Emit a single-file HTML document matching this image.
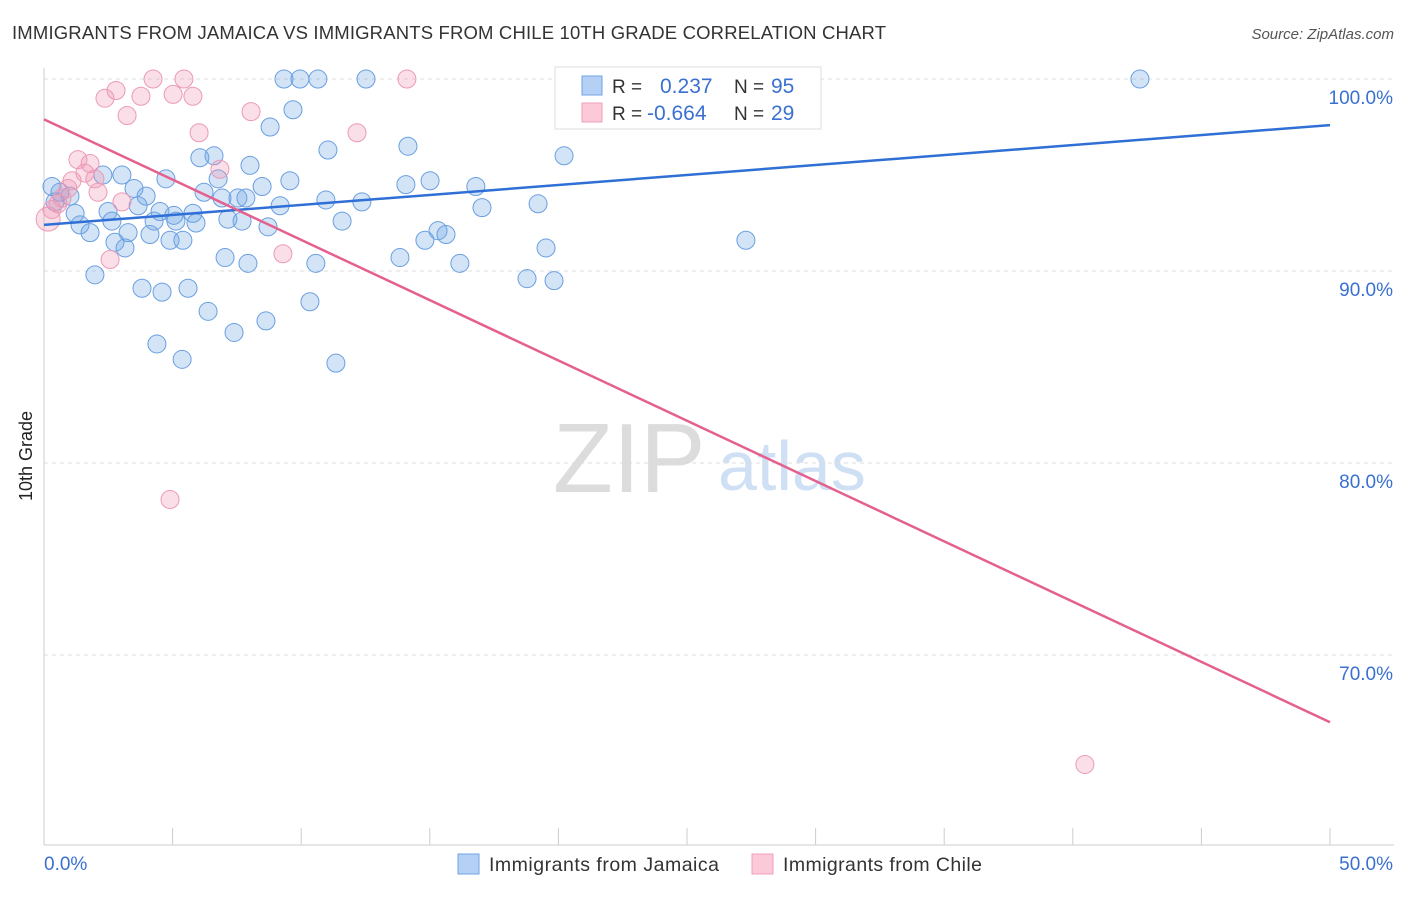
<!DOCTYPE html>
<html><head><meta charset="utf-8"><style>
body{margin:0;background:#fff;font-family:"Liberation Sans",sans-serif;}
svg text{font-family:"Liberation Sans",sans-serif;}
</style></head><body>
<svg width="1406" height="892" xmlns="http://www.w3.org/2000/svg">
<text x="12" y="39" font-size="18.5" fill="#333" textLength="874" lengthAdjust="spacing">IMMIGRANTS FROM JAMAICA VS IMMIGRANTS FROM CHILE 10TH GRADE CORRELATION CHART</text>
<text x="1394" y="39" font-size="15" fill="#555" text-anchor="end" font-style="italic">Source: ZipAtlas.com</text>
<text x="32" y="456" font-size="18" fill="#222" text-anchor="middle" transform="rotate(-90 32 456)">10th Grade</text>
<text x="553" y="492" font-size="98" fill="#dcdcdc" font-family="Liberation Serif">ZIP</text>
<text x="718" y="490" font-size="70" fill="#cfe0f5">atlas</text>
<g id="grid"></g><g id="axes"></g><g id="pts"></g><g id="lines"></g>
<g>
<rect x="555" y="67" width="266" height="62" fill="#fff" stroke="#ddd"/>
<rect x="582" y="76" width="20" height="19" fill="#b5d0f5" stroke="#6fa3e5"/>
<rect x="582" y="103" width="20" height="19" fill="#fbc9d8" stroke="#f0a0b8"/>
<text x="612" y="93" font-size="19" fill="#333">R =</text><text x="660" y="93" font-size="21" fill="#3a70d0">0.237</text>
<text x="734" y="93" font-size="19" fill="#333">N =</text><text x="771" y="93" font-size="21" fill="#3a70d0">95</text>
<text x="612" y="120" font-size="19" fill="#333">R =</text><text x="647" y="120" font-size="21" fill="#3a70d0">-0.664</text>
<text x="734" y="120" font-size="19" fill="#333">N =</text><text x="771" y="120" font-size="21" fill="#3a70d0">29</text>
</g>
<g>
<rect x="458" y="854" width="21" height="20" fill="#b5d0f5" stroke="#6fa3e5"/>
<text x="489" y="871" font-size="19.5" fill="#333" textLength="230" lengthAdjust="spacing">Immigrants from Jamaica</text>
<rect x="752" y="854" width="21" height="20" fill="#fbc9d8" stroke="#f0a0b8"/>
<text x="783" y="871" font-size="19.5" fill="#333" textLength="199" lengthAdjust="spacing">Immigrants from Chile</text>
</g>
</svg>
<script>
const yTicks=[100,90,80,70];
const xTickLabels=["0.0%","50.0%"];
const blueX=[0.31,0.62,1.01,0.43,1.21,1.40,1.79,1.98,2.29,2.49,2.64,2.76,3.03,3.15,3.27,3.50,3.66,3.81,3.97,4.12,4.28,4.39,4.51,4.59,4.74,4.90,5.05,5.13,5.37,5.40,5.60,5.79,5.91,6.06,6.22,6.38,6.61,6.77,6.92,7.04,7.15,7.39,7.54,7.70,7.85,7.93,8.01,8.48,8.63,8.71,8.79,9.18,9.33,9.56,9.68,9.95,10.34,10.57,10.65,10.96,11.04,11.35,11.59,12.36,12.52,13.84,14.07,14.15,14.81,15.01,15.32,15.63,16.17,16.79,17.03,18.78,19.21,19.52,19.83,20.26,20.22,25.81,27.29,42.61];
const blueY=[94.4,94.1,93.9,93.6,93.0,92.4,92.0,89.8,95.0,93.1,92.6,91.5,95.0,91.2,92.0,94.3,93.4,89.1,93.9,91.9,92.6,86.2,93.1,88.9,94.8,91.6,92.9,92.6,85.4,91.6,89.1,93.0,92.5,95.9,94.1,87.9,96.0,94.8,93.8,90.7,92.7,86.8,93.8,92.6,93.8,90.4,95.5,94.4,87.4,92.3,97.5,93.4,100,94.7,98.4,100,88.4,90.4,100,93.7,96.3,85.2,92.6,93.6,100,90.7,94.5,96.5,91.6,94.7,92.1,91.9,90.4,94.4,93.3,89.6,93.5,91.2,89.5,100,96.0,100,91.6,100];
const pinkX=[0.16,0.31,0.54,0.70,0.93,1.09,1.32,1.59,1.79,1.98,2.10,2.37,2.57,2.80,3.03,3.23,3.77,4.24,4.90,5.02,5.44,5.79,6.03,6.84,8.05,9.29,12.17,14.11,40.47];
const pinkY=[92.7,93.2,93.5,93.8,94.3,94.7,95.8,95.1,95.6,94.8,94.1,99.0,90.6,99.4,93.6,98.1,99.1,100,78.1,99.2,100,99.1,97.2,95.3,98.3,90.9,97.2,100,64.3];
const blueLine=[0,92.4,50,97.6], pinkLine=[0,97.9,50,66.5];
const X=v=>44+v/50*1286, Y=v=>79+(100-v)*19.2;
const NS="http://www.w3.org/2000/svg";
function mk(t,a,p){const e=document.createElementNS(NS,t);for(const k in a)e.setAttribute(k,a[k]);p.appendChild(e);return e;}
const grid=document.getElementById('grid'),axes=document.getElementById('axes'),pts=document.getElementById('pts'),lines=document.getElementById('lines');
yTicks.forEach(t=>{
 const l=mk('line',{x1:44,x2:1394,y1:Y(t),y2:Y(t),stroke:'#ddd','stroke-dasharray':'4 4'},grid);
 
 
 const tx=mk('text',{x:1393,y:Y(t)+25,'font-size':19,fill:'#3a70d0','text-anchor':'end'},grid);
 tx.textContent=t.toFixed(1)+'%';
 
 
});
mk('line',{x1:44,x2:44,y1:68,y2:845,stroke:'#ccc'},axes);
mk('line',{x1:44,x2:1394,y1:845,y2:845,stroke:'#ccc'},axes);
for(let i=0;i<=10;i++){const t=mk('line',{x1:X(i*5),x2:X(i*5),y1:828,y2:845,stroke:'#ccc'},axes);
 
 }
const xl0=mk('text',{x:44,y:870,'font-size':19,fill:'#3a70d0'},axes);xl0.textContent=xTickLabels[0];


const xl1=mk('text',{x:1393,y:870,'font-size':19,fill:'#3a70d0','text-anchor':'end'},axes);xl1.textContent=xTickLabels[1];


blueX.forEach((x,i)=>{const c=mk('circle',{cx:X(x),cy:Y(blueY[i]),r:9,fill:'rgba(110,165,230,0.3)',stroke:'#6a9fe0','stroke-width':1},pts);
 
 });
pinkX.forEach((x,i)=>{const c=mk('circle',{cx:X(x),cy:Y(pinkY[i]),r:i==0?12:9,fill:'rgba(240,150,180,0.3)',stroke:'#ec9ab5','stroke-width':1},pts);
 
 });
const bl=mk('line',{x1:X(blueLine[0]),y1:Y(blueLine[1]),x2:X(blueLine[2]),y2:Y(blueLine[3]),stroke:'#2f6fd6','stroke-width':2.5},lines);


const pl=mk('line',{x1:X(pinkLine[0]),y1:Y(pinkLine[1]),x2:X(pinkLine[2]),y2:Y(pinkLine[3]),stroke:'#e4608e','stroke-width':2.5},lines);


</script>
</body></html>
